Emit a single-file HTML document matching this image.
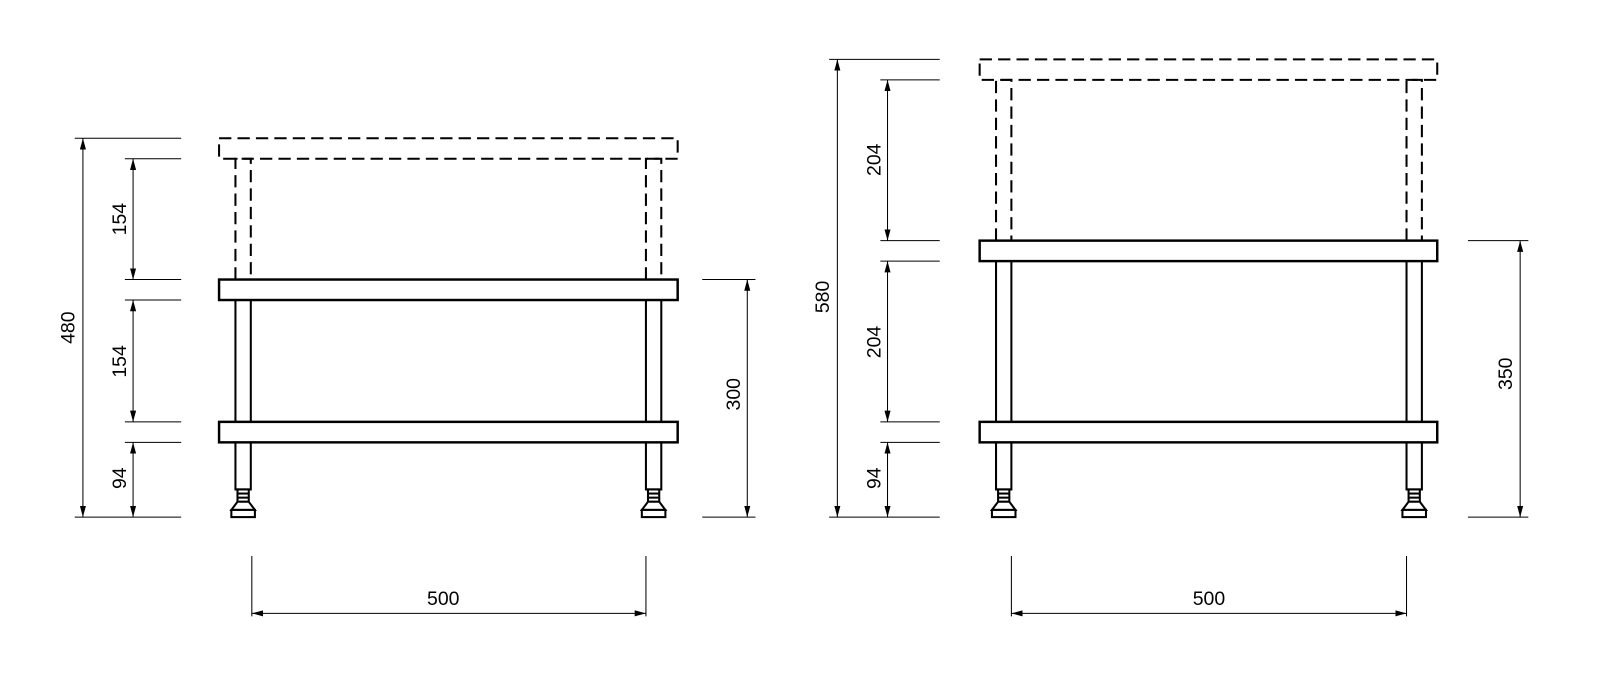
<!DOCTYPE html>
<html><head><meta charset="utf-8"><style>html,body{margin:0;padding:0;background:#fff}svg{display:block}</style></head>
<body>
<svg width="1600" height="684" viewBox="0 0 1563 668" preserveAspectRatio="none" xmlns="http://www.w3.org/2000/svg">
<defs>
<marker id="a" viewBox="0 0 10 10" refX="10" refY="5" markerWidth="11" markerHeight="11" orient="auto-start-reverse" markerUnits="userSpaceOnUse"><path d="M0,2.3 L10,5 L0,7.7 z" fill="#000"/></marker>
<g id="foot" fill="#fff" stroke="#000" stroke-width="2">
<rect x="2" y="0" width="11" height="12"/>
<line x1="2" y1="4" x2="13" y2="4"/><line x1="2" y1="8" x2="13" y2="8"/>
<path d="M2,12 L13,12 L19,20 L-4,20 Z"/>
<rect x="-4" y="20" width="23" height="7"/>
</g>
</defs>
<g font-family="Liberation Sans, sans-serif" font-size="19" fill="#000">
<g fill="none" stroke="#000" stroke-width="2">
<rect x="214" y="135" width="448" height="20" stroke-dasharray="12,6"/>
<path d="M230,273 V155 H245 V273 M631,273 V155 H646 V273" stroke-dasharray="12,6"/>
<rect x="214" y="273" width="448" height="20" stroke-width="2.4"/>
<rect x="214" y="412" width="448" height="20" stroke-width="2.4"/>
<path d="M230,293 V412 M245,293 V412 M631,293 V412 M646,293 V412"/>
<path d="M230,432 V478 H245 V432 M631,432 V478 H646 V432"/>
</g>
<use href="#foot" x="230" y="478"/><use href="#foot" x="631" y="478"/>
<g stroke="#000" stroke-width="1" fill="none">
<path d="M73,135 H177 M73,505 H177 M122,155 H177 M122,273 H177 M122,293 H177 M122,412 H177 M122,432 H177 M686,273 H738 M686,505 H738 M246,543 V602 M631,543 V602"/>
<line x1="81" y1="135" x2="81" y2="505" marker-start="url(#a)" marker-end="url(#a)"/>
<line x1="130" y1="155" x2="130" y2="273" marker-start="url(#a)" marker-end="url(#a)"/>
<line x1="130" y1="293" x2="130" y2="412" marker-start="url(#a)" marker-end="url(#a)"/>
<line x1="130" y1="432" x2="130" y2="505" marker-start="url(#a)" marker-end="url(#a)"/>
<line x1="730" y1="273" x2="730" y2="505" marker-start="url(#a)" marker-end="url(#a)"/>
<line x1="246" y1="599" x2="631" y2="599" marker-start="url(#a)" marker-end="url(#a)"/>
</g>
<text transform="translate(73,320) rotate(-90)" text-anchor="middle">480</text>
<text transform="translate(123,214) rotate(-90)" text-anchor="middle">154</text>
<text transform="translate(123,353) rotate(-90)" text-anchor="middle">154</text>
<text transform="translate(123,467) rotate(-90)" text-anchor="middle">94</text>
<text transform="translate(723,385) rotate(-90)" text-anchor="middle">300</text>
<text x="433" y="591" text-anchor="middle">500</text>
<g fill="none" stroke="#000" stroke-width="2">
<rect x="957" y="58" width="447" height="20" stroke-dasharray="12,6"/>
<path d="M973,235 V78 H988 V235 M1374,235 V78 H1389 V235" stroke-dasharray="12,6"/>
<rect x="957" y="235" width="447" height="20" stroke-width="2.4"/>
<rect x="957" y="412" width="447" height="20" stroke-width="2.4"/>
<path d="M973,255 V412 M988,255 V412 M1374,255 V412 M1389,255 V412"/>
<path d="M973,432 V478 H988 V432 M1374,432 V478 H1389 V432"/>
</g>
<use href="#foot" x="973" y="478"/><use href="#foot" x="1374" y="478"/>
<g stroke="#000" stroke-width="1" fill="none">
<path d="M810,58 H918 M810,505 H918 M860,78 H918 M860,235 H918 M860,255 H918 M860,412 H918 M860,432 H918 M1434,235 H1493 M1434,505 H1493 M988,543 V602 M1374,543 V602"/>
<line x1="818" y1="58" x2="818" y2="505" marker-start="url(#a)" marker-end="url(#a)"/>
<line x1="867" y1="78" x2="867" y2="235" marker-start="url(#a)" marker-end="url(#a)"/>
<line x1="867" y1="255" x2="867" y2="412" marker-start="url(#a)" marker-end="url(#a)"/>
<line x1="867" y1="432" x2="867" y2="505" marker-start="url(#a)" marker-end="url(#a)"/>
<line x1="1485" y1="235" x2="1485" y2="505" marker-start="url(#a)" marker-end="url(#a)"/>
<line x1="988" y1="599" x2="1374" y2="599" marker-start="url(#a)" marker-end="url(#a)"/>
</g>
<text transform="translate(810,290) rotate(-90)" text-anchor="middle">580</text>
<text transform="translate(860,156) rotate(-90)" text-anchor="middle">204</text>
<text transform="translate(860,334) rotate(-90)" text-anchor="middle">204</text>
<text transform="translate(860,467) rotate(-90)" text-anchor="middle">94</text>
<text transform="translate(1477,365) rotate(-90)" text-anchor="middle">350</text>
<text x="1181" y="591" text-anchor="middle">500</text>
</g>
</svg>
</body></html>
